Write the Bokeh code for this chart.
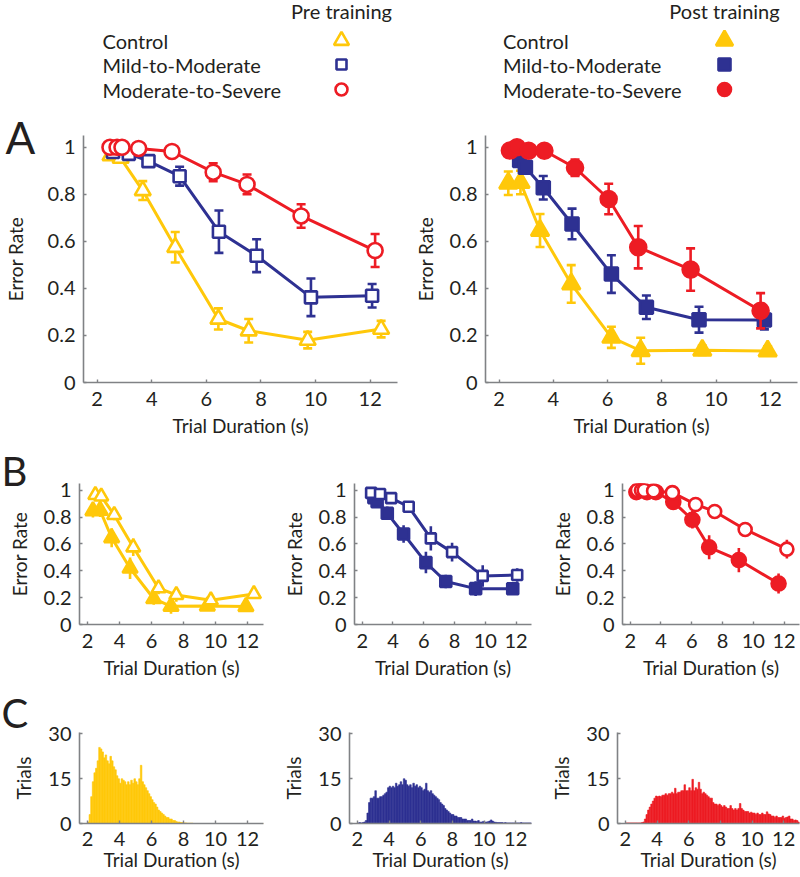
from bokeh.plotting import figure
from bokeh.layouts import column, row
from bokeh.models import Range1d, FixedTicker
from bokeh.core.properties import value
from bokeh.embed import file_html
from bokeh.resources import INLINE

# ---------------- data ----------------
groups = ["Control", "Mild-to-Moderate", "Moderate-to-Severe"]
phases = ["Pre training", "Post training"]
x_ticks = [2, 4, 6, 8, 10, 12]
err_ticks = [0, 0.2, 0.4, 0.6, 0.8, 1]
trial_ticks = [0, 15, 30]

# Pre training (open markers): x = trial duration (s), y = error rate, e = error bar half-length
pre_ctrl_x = [2.49, 2.86, 3.67, 4.86, 6.44, 7.55, 9.71, 12.40]
pre_ctrl_y = [0.965, 0.954, 0.816, 0.575, 0.270, 0.220, 0.180, 0.227]
pre_ctrl_e = [0.012, 0.012, 0.040, 0.065, 0.045, 0.050, 0.035, 0.035]

pre_mild_x = [2.58, 3.16, 3.88, 5.02, 6.46, 7.84, 9.83, 12.07]
pre_mild_y = [0.980, 0.972, 0.941, 0.877, 0.641, 0.539, 0.362, 0.369]
pre_mild_e = [0.010, 0.012, 0.020, 0.040, 0.090, 0.070, 0.080, 0.050]

pre_sev_x = [2.47, 2.73, 2.91, 3.52, 4.74, 6.25, 7.49, 9.47, 12.18]
pre_sev_y = [1.000, 1.000, 1.000, 0.995, 0.982, 0.894, 0.842, 0.708, 0.561]
pre_sev_e = [0.005, 0.005, 0.005, 0.008, 0.012, 0.038, 0.042, 0.050, 0.070]

# Post training (filled markers)
post_ctrl_x = [2.34, 2.79, 3.51, 4.66, 6.14, 7.22, 9.49, 11.90]
post_ctrl_y = [0.847, 0.850, 0.646, 0.419, 0.192, 0.135, 0.137, 0.134]
post_ctrl_e = [0.050, 0.050, 0.070, 0.080, 0.045, 0.055, 0.020, 0.020]

post_mild_x = [2.76, 2.97, 3.63, 4.69, 6.14, 7.43, 9.37, 11.78]
post_mild_y = [0.944, 0.915, 0.828, 0.674, 0.461, 0.320, 0.267, 0.266]
post_mild_e = [0.020, 0.020, 0.050, 0.065, 0.080, 0.050, 0.055, 0.040]

post_sev_x = [2.40, 2.66, 3.09, 3.67, 4.80, 6.04, 7.13, 9.06, 11.64]
post_sev_y = [0.986, 1.000, 0.985, 0.985, 0.913, 0.780, 0.575, 0.480, 0.305]
post_sev_e = [0.010, 0.008, 0.010, 0.010, 0.035, 0.065, 0.090, 0.090, 0.075]

# Histograms of trial durations: 0.1 s bins starting at 2.0 s
hist_start = 2.0
hist_bin = 0.1
ctrl_hist = [0.5, 3, 9, 14, 17, 18.5, 21, 25.5, 25, 24,
             22, 23, 21, 20, 22.5, 21, 19, 18, 16, 15,
             13.5, 15, 14.5, 14, 13, 14, 13, 14.5, 13.5, 15,
             14, 13, 15, 19.5, 14, 13, 12, 11, 10, 9,
             8, 7, 6.5, 5.5, 4.5, 4, 3.5, 3, 2.5, 2,
             2, 1.5, 1.5, 1, 1, 0.7, 0.5, 0.5, 0.3, 0.3,
             0.2, 0.2, 0.1, 0.1, 0.1, 0.1, 0, 0, 0, 0,
             0, 0, 0, 0, 0, 0, 0, 0, 0, 0,
             0, 0, 0, 0, 0, 0, 0, 0, 0, 0,
             0, 0, 0, 0, 0, 0, 0, 0, 0, 0,
             0, 0, 0, 0, 0, 0, 0, 0, 0, 0]
mild_hist = [0.2, 0.3, 0.2, 0.3, 0.5, 1, 3.5, 7, 8.5, 8.5,
             9, 11, 8.5, 8.5, 9, 9, 9.5, 10, 10.5, 12,
             12.5, 12, 12.5, 12, 13.5, 12.5, 13, 14, 13, 15,
             14.5, 13, 12.5, 13, 12, 13.5, 12.5, 13, 12, 12.5,
             12, 11, 11.5, 13.5, 11, 10.5, 11, 10, 9.5, 9,
             8.5, 8, 7, 6.5, 6, 5, 4.5, 4, 3.5, 3,
             3, 2.5, 2.5, 2, 2, 2, 1.5, 1.5, 1.5, 1,
             1, 1, 1.5, 0.8, 0.8, 0.7, 1, 0.5, 0.5, 0.7,
             0.5, 0.5, 0.6, 0.8, 1.2, 0.8, 0.5, 0.4, 0.3, 0.3,
             0.3, 0.3, 0.2, 0.3, 0.2, 0.2, 0.2, 0.2, 0.2, 0.2,
             0.2, 0.2, 0.2, 0.3, 0.2, 0.2, 0.2, 0.2, 0.2, 0.2]
sev_hist = [0.2, 0.2, 0.2, 0.2, 0.2, 0.2, 0.2, 0.2, 0.2, 0.2,
            0.3, 0.5, 1.5, 3, 4.5, 5.5, 6.5, 7.5, 8.5, 9.2,
            9, 9.2, 9, 9.5, 9.5, 10, 9.5, 10, 10, 10.5,
            10, 11.8, 10, 10.5, 10.5, 11, 11, 13, 11, 11,
            12, 11, 14.8, 11, 12, 11.5, 13.8, 11.5, 10, 10.5,
            10, 9.5, 9, 8.5, 8.5, 7, 6.5, 6.5, 6, 6.5,
            6, 5.5, 6, 5.5, 5, 5, 6, 5, 4.5, 5,
            4.5, 5, 6.7, 5, 4.5, 4, 4, 4, 3.5, 3.8,
            3.5, 3.5, 3, 3.5, 3, 3, 3.5, 3, 3, 3.9,
            3.2, 3, 2.5, 2.5, 2, 2.5, 2, 2, 2, 2.5,
            1.8, 2, 2.2, 2.5, 1.5, 1.5, 1, 1.2, 1, 0.5]

# ---------------- style ----------------
FONT = "Lato"
TXT = "#231F20"
AXC = "#808285"
COL = {"Control": "#FFC80A", "Mild-to-Moderate": "#2E3192", "Moderate-to-Severe": "#ED1C24"}
MARK = {"Control": "triangle", "Mild-to-Moderate": "square", "Moderate-to-Severe": "circle"}
SIZE_A = {"Control": 16, "Mild-to-Moderate": 12, "Moderate-to-Severe": 15}
SIZE_A_F = {"Control": 18, "Mild-to-Moderate": 13, "Moderate-to-Severe": 16}
SIZE_B = {"Control": 14, "Mild-to-Moderate": 10, "Moderate-to-Severe": 13}
SIZE_B_F = {"Control": 15, "Mild-to-Moderate": 11, "Moderate-to-Severe": 14}

pre = {"Control": (pre_ctrl_x, pre_ctrl_y, pre_ctrl_e),
       "Mild-to-Moderate": (pre_mild_x, pre_mild_y, pre_mild_e),
       "Moderate-to-Severe": (pre_sev_x, pre_sev_y, pre_sev_e)}
post = {"Control": (post_ctrl_x, post_ctrl_y, post_ctrl_e),
        "Mild-to-Moderate": (post_mild_x, post_mild_y, post_mild_e),
        "Moderate-to-Severe": (post_sev_x, post_sev_y, post_sev_e)}
hists = {"Control": ctrl_hist, "Mild-to-Moderate": mild_hist, "Moderate-to-Severe": sev_hist}


def make_fig(w, h, bl, br, bt, bb, yr, yticks, ylabel, ylab_standoff, xl_so=9, xa_so=5):
    p = figure(width=w, height=h, x_range=Range1d(1.5, 13), y_range=Range1d(*yr),
               output_backend="svg", toolbar_location=None,
               min_border_left=bl, min_border_right=br, min_border_top=bt, min_border_bottom=bb)
    p.outline_line_color = None
    p.grid.visible = False
    p.xaxis.ticker = FixedTicker(ticks=x_ticks)
    p.yaxis.ticker = FixedTicker(ticks=yticks)
    p.xaxis.axis_label = "Trial Duration (s)"
    p.yaxis.axis_label = ylabel
    if yticks == err_ticks:
        p.yaxis.major_label_overrides = {0: "0", 1: "1"}
    for ax in (p.xaxis[0], p.yaxis[0]):
        ax.axis_line_color = AXC
        ax.axis_line_width = 1.6
        ax.major_tick_line_color = AXC
        ax.major_tick_line_width = 1.4
        ax.major_tick_in = 3
        ax.major_tick_out = 0
        ax.minor_tick_line_color = None
        ax.major_label_text_font = FONT
        ax.major_label_text_font_size = "20px"
        ax.major_label_text_color = TXT
        ax.axis_label_text_font = FONT
        ax.axis_label_text_font_size = "19px"
        ax.axis_label_text_font_style = "normal"
        ax.axis_label_text_color = TXT
    p.xaxis.major_label_standoff = xl_so
    p.xaxis.axis_label_standoff = xa_so
    p.yaxis.major_label_standoff = 8
    p.yaxis.axis_label_standoff = ylab_standoff
    return p


def draw_series(p, data, g, filled, size, lw, cap):
    x, y, e = data
    c = COL[g]
    lo = [yy - ee for yy, ee in zip(y, e)]
    hi = [yy + ee for yy, ee in zip(y, e)]
    p.segment(x0=x, y0=lo, x1=x, y1=hi, line_color=c, line_width=2.6)
    if cap:
        p.scatter(x=x, y=hi, marker="dash", size=cap, line_color=c, line_width=2.6)
        p.scatter(x=x, y=lo, marker="dash", size=cap, line_color=c, line_width=2.6)
    p.line(x=x, y=y, line_color=c, line_width=lw)
    p.scatter(x=x, y=y, marker=MARK[g], size=size, line_color=c,
              fill_color=c if filled else "white", line_width=2.6)


def letter(p, txt, offset, standoff, size):
    # panel letter drawn as the figure's title, pulled to the canvas' left edge
    t = p.title
    t.text = txt
    t.align = "left"
    t.vertical_align = "bottom"
    t.offset = offset
    t.standoff = standoff
    t.text_font = FONT
    t.text_font_size = size
    t.text_font_style = "normal"
    t.text_color = TXT


# ---------------- legend ----------------
leg = figure(width=800, height=105, x_range=Range1d(0, 800), y_range=Range1d(105, 0),
             output_backend="svg", toolbar_location=None, x_axis_type=None, y_axis_type=None,
             min_border=0)
leg.outline_line_color = None
leg.grid.visible = False
row_y = [40, 64, 89]
lab_x = {"Pre training": 102, "Post training": 502.5}
mark_x = {"Pre training": 341, "Post training": 724}
for ph in phases:
    leg.text(x=[mark_x[ph]], y=[10], text=[ph], text_font=value(FONT), text_font_size="20px",
             text_color=TXT, text_align="center", text_baseline="middle")
    leg.text(x=[lab_x[ph]] * 3, y=row_y, text=groups, text_font=value(FONT), text_font_size="20px",
             text_color=TXT, text_align="left", text_baseline="middle")
    filled = ph == "Post training"
    for g, yy in zip(groups, row_y):
        sz = {"Control": 15, "Mild-to-Moderate": 10, "Moderate-to-Severe": 12}[g]
        if filled:
            sz = {"Control": 17, "Mild-to-Moderate": 12, "Moderate-to-Severe": 13}[g]
        leg.scatter(x=[mark_x[ph]], y=[yy], marker=MARK[g], size=sz, line_color=COL[g],
                    fill_color=COL[g] if filled else "white", line_width=2.6)

# ---------------- row A ----------------
A1 = make_fig(410, 340, 79, 13, 30, 63, (0, 1.05), err_ticks, "Error Rate", 18)
A2 = make_fig(390, 340, 69, 3, 30, 63, (0, 1.05), err_ticks, "Error Rate", 10)
for g in groups:
    draw_series(A1, pre[g], g, False, SIZE_A[g], 3, 9)
    draw_series(A2, post[g], g, True, SIZE_A_F[g], 3, 9)
letter(A1, "A", -78, -55, "44px")

# ---------------- row B ----------------
B_w = [(279, 79, 16), (268, 68, 16), (253, 68, 1)]
Bs = []
for (w, bl, br), g in zip(B_w, groups):
    p = make_fig(w, 240, bl, br, 38, 61, (0, 1.05), err_ticks, "Error Rate", 10)
    draw_series(p, post[g], g, True, SIZE_B_F[g], 3, 0)
    draw_series(p, pre[g], g, False, SIZE_B[g], 3, 0)
    Bs.append(p)
letter(Bs[0], "B", -78, -23, "40px")

# ---------------- row C ----------------
Cs = []
for (w, bl, br), g in zip(B_w, groups):
    p = make_fig(w, 192, bl, br, 47, 54, (0, 30.5), trial_ticks, "Trials", 10, xl_so=8, xa_so=-1)
    vals = hists[g]
    left = [hist_start + hist_bin * i for i in range(len(vals))]
    right = [l + hist_bin for l in left]
    p.quad(left=left, right=right, bottom=0, top=vals, fill_color=COL[g], line_color=COL[g], line_width=0.6)
    Cs.append(p)
letter(Cs[0], "C", -78, -9, "40px")

layout = column(leg, row(A1, A2), row(*Bs), row(*Cs))
open("out.html", "w").write(file_html(layout, INLINE))
